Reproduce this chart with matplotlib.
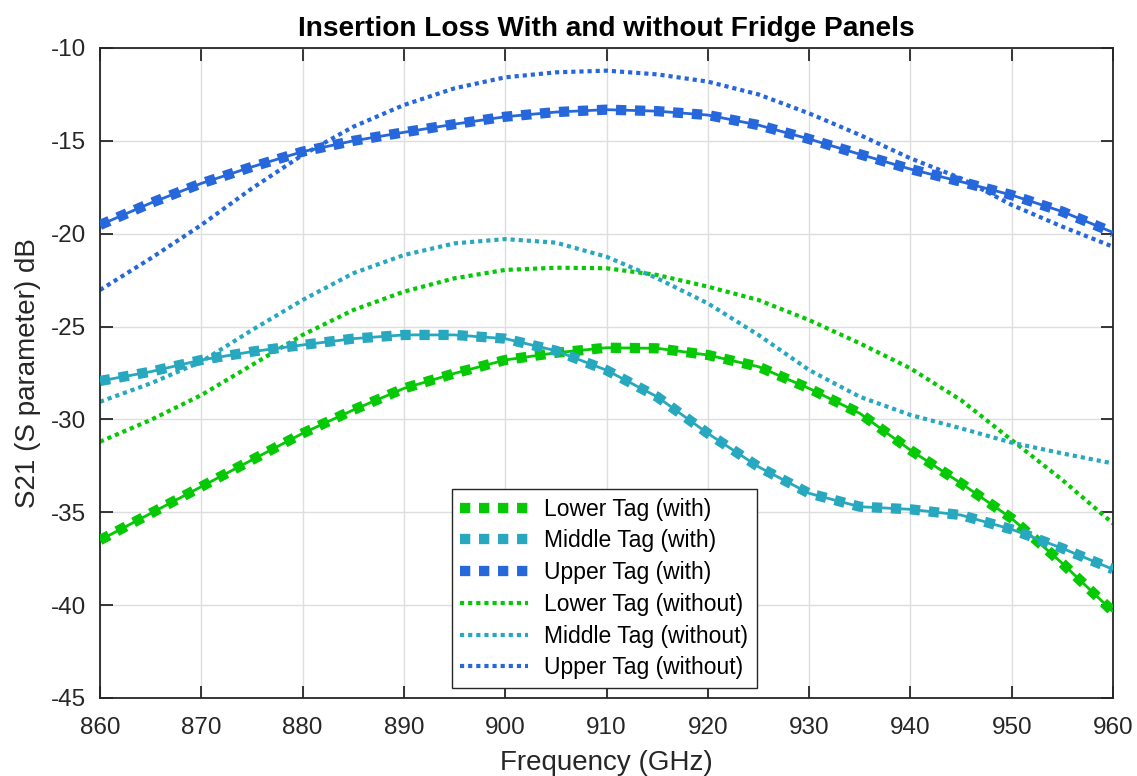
import matplotlib
matplotlib.use("Agg")
import matplotlib.pyplot as plt
import numpy as np

freq = [860, 865, 870, 875, 880, 885, 890, 895, 900, 905, 910,
        915, 920, 925, 930, 935, 940, 945, 950, 955, 960]

lower_with = [-36.50, -35.06, -33.62, -32.18, -30.75, -29.49, -28.33, -27.52, -26.80, -26.41, -26.14,
              -26.17, -26.53, -27.16, -28.33, -29.67, -31.65, -33.44, -35.33, -37.75, -40.35]
middle_with = [-27.93, -27.43, -26.80, -26.35, -25.99, -25.65, -25.45, -25.45, -25.65, -26.30, -27.35,
               -28.78, -30.75, -32.55, -33.98, -34.70, -34.84, -35.15, -35.92, -36.94, -38.07]
upper_with = [-19.53, -18.35, -17.29, -16.40, -15.58, -15.00, -14.54, -14.10, -13.70, -13.45, -13.32,
              -13.40, -13.61, -14.15, -14.90, -15.72, -16.52, -17.20, -17.92, -18.81, -19.93]

lower_without = [-31.20, -30.03, -28.69, -27.07, -25.45, -24.11, -23.12, -22.40, -21.95, -21.83, -21.86,
                 -22.22, -22.85, -23.57, -24.65, -25.90, -27.25, -28.96, -31.11, -33.26, -35.60]
middle_without = [-29.05, -28.06, -26.89, -25.19, -23.57, -22.13, -21.15, -20.52, -20.29, -20.48, -21.24,
                  -22.40, -23.75, -25.45, -27.34, -28.78, -29.76, -30.48, -31.25, -31.83, -32.37]
upper_without = [-23.03, -21.33, -19.53, -17.56, -15.76, -14.24, -13.07, -12.17, -11.58, -11.31, -11.22,
                 -11.42, -11.81, -12.50, -13.52, -14.68, -15.94, -17.02, -18.45, -19.62, -20.70]

labels_with = ["Lower Tag (with)", "Middle Tag (with)", "Upper Tag (with)"]
labels_without = ["Lower Tag (without)", "Middle Tag (without)", "Upper Tag (without)"]
colors = ["#05C905", "#28A8BE", "#2767DC"]

xticks = [860, 870, 880, 890, 900, 910, 920, 930, 940, 950, 960]
yticks = [-45, -40, -35, -30, -25, -20, -15, -10]

title = "Insertion Loss With and without Fridge Panels"
xlabel = "Frequency (GHz)"
ylabel = "S21 (S parameter) dB"

plt.rcParams['font.family'] = ['Liberation Sans', 'DejaVu Sans']
plt.rcParams['axes.unicode_minus'] = False

W, H = 1137, 776
fig = plt.figure(figsize=(W / 100, H / 100), dpi=100)
ax = fig.add_axes([100 / W, (H - 698) / H, 1013 / W, 650 / H])

with_series = [lower_with, middle_with, upper_with]
without_series = [lower_without, middle_without, upper_without]

handles = []
for ys, c, lab in zip(with_series, colors, labels_with):
    ax.plot(freq, ys, color=c, lw=2.0, solid_capstyle='butt', zorder=3)
    h, = ax.plot(freq, ys, color=c, lw=7.4, linestyle=(0, (1, 0.85)),
                 dash_capstyle='butt', label=lab, zorder=3)
    handles.append(h)
for ys, c, lab in zip(without_series, colors, labels_without):
    h, = ax.plot(freq, ys, color=c, lw=3.0, linestyle=(0, (1, 0.95)),
                 dash_capstyle='butt', label=lab, zorder=2)
    handles.append(h)

ax.set_xlim(860, 960)
ax.set_ylim(-45, -10)
ax.set_xticks(xticks)
ax.set_yticks(yticks)
ax.grid(True, color='#DEDEDE', lw=1.0, zorder=0)
ax.set_axisbelow(True)
ax.tick_params(direction='in', length=9, width=1.3, colors='#262626',
               labelsize=17.5, top=True, right=True)
ax.tick_params(axis='x', pad=14)
ax.tick_params(axis='y', pad=10)
for s in ax.spines.values():
    s.set_color('#262626')
    s.set_linewidth(1.3)

fig.text(28 / W, 1 - 373 / H, ylabel, rotation=90, ha='center', va='center',
         fontsize=20, color='#262626')
fig.text(606 / W, 1 - 763 / H, xlabel, ha='center', va='center',
         fontsize=20, color='#262626')
fig.text(606 / W, 1 - 36 / H, title, ha='center', va='baseline',
         fontsize=20.2, fontweight='bold', color='black')

leg = ax.legend(handles=handles, loc='lower left',
                bbox_to_anchor=(0.347, 0.0154), borderaxespad=0,
                fontsize=16.5, handlelength=2.95, handletextpad=0.7,
                labelspacing=0.38, borderpad=0.38, fancybox=False,
                framealpha=1, edgecolor='#262626')
leg.get_frame().set_linewidth(1.0)

fig.savefig("out.png", dpi=100)
